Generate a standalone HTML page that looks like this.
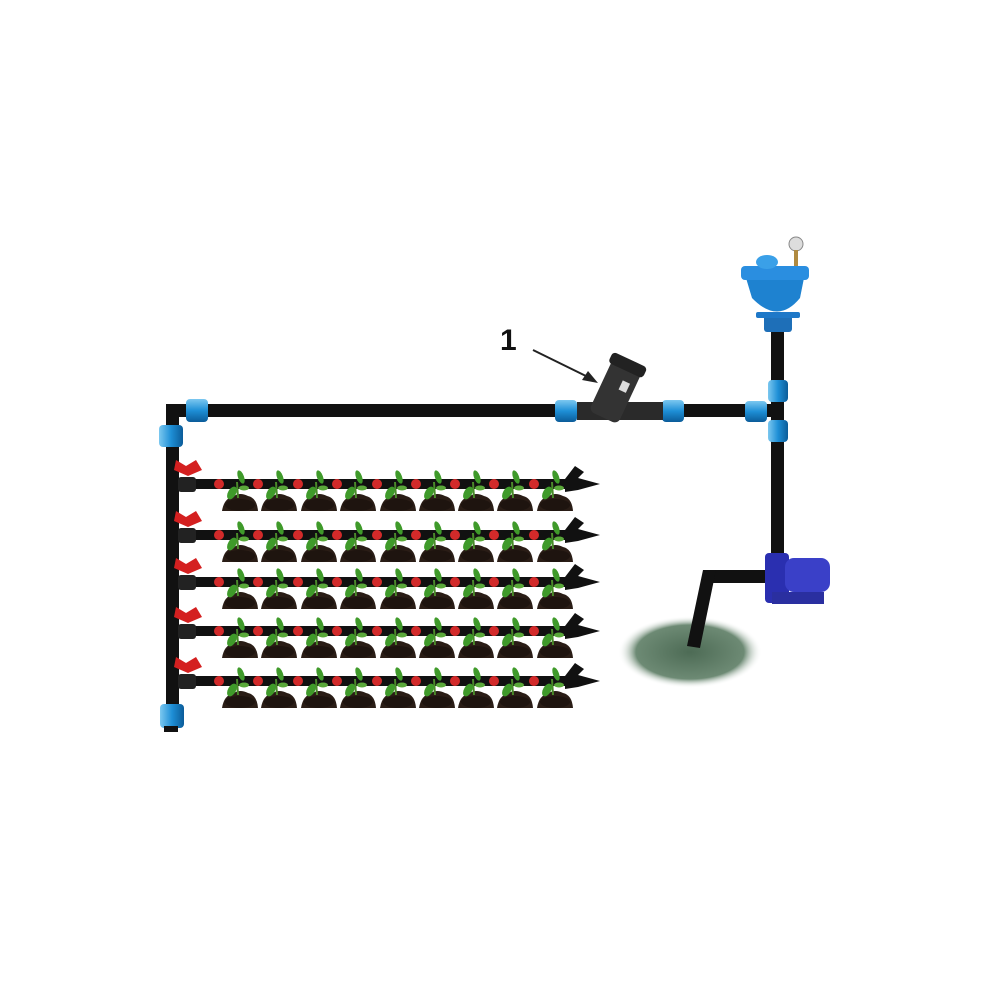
<!DOCTYPE html>
<html><head><meta charset="utf-8"><style>html,body{margin:0;padding:0;background:#fff}svg{display:block}</style></head>
<body>
<svg width="1000" height="1000" viewBox="0 0 1000 1000" xmlns="http://www.w3.org/2000/svg">
<defs>
<linearGradient id="blue" x1="0" y1="0" x2="0" y2="1"><stop offset="0" stop-color="#7cc8f0"/><stop offset="0.5" stop-color="#1e8fd6"/><stop offset="1" stop-color="#0b5c99"/></linearGradient>
<linearGradient id="blueV" x1="0" y1="0" x2="1" y2="0"><stop offset="0" stop-color="#7cc8f0"/><stop offset="0.5" stop-color="#1e8fd6"/><stop offset="1" stop-color="#0b5c99"/></linearGradient>
<radialGradient id="ground" cx="0.5" cy="0.5" r="0.5"><stop offset="0" stop-color="#4d6b55"/><stop offset="0.75" stop-color="#6d8a74"/><stop offset="1" stop-color="#ffffff" stop-opacity="0"/></radialGradient>
<g id="plant">
  <path d="M-2 27 Q0 14 10 12 Q16 8 24 12 Q33 14 34 27 Z" fill="#2a1d16"/>
  <ellipse cx="16" cy="21" rx="15" ry="6" fill="#1e140f"/>
  <path d="M14 14 L13 -2" stroke="#4a8a2a" stroke-width="2"/>
  <ellipse cx="8" cy="9" rx="4" ry="7" fill="#3f9a2a" transform="rotate(30 8 9)"/>
  <ellipse cx="17" cy="-7" rx="3" ry="7" fill="#3f9a2a" transform="rotate(-20 17 -7)"/>
  <ellipse cx="20" cy="4" rx="5" ry="2.5" fill="#5aa83a"/>
  <circle cx="-5" cy="0" r="5" fill="#d22a2a"/>
</g>
<g id="row">
  <rect x="180" y="-5" width="395" height="10" fill="#111"/>
  <path d="M565 -5 L575 -18 L584 -12 L578 -6 L600 0 L578 6 L565 8 Z" fill="#111"/>
  <rect x="178" y="-7" width="18" height="15" rx="3" fill="#222"/>
  <path d="M176 -24 L186 -18 L196 -24 L202 -14 L188 -8 L174 -14 Z" fill="#d42020"/>
  <use href="#plant" x="224" y="0"/><use href="#plant" x="263" y="0"/><use href="#plant" x="303" y="0"/>
  <use href="#plant" x="342" y="0"/><use href="#plant" x="382" y="0"/><use href="#plant" x="421" y="0"/>
  <use href="#plant" x="460" y="0"/><use href="#plant" x="499" y="0"/><use href="#plant" x="539" y="0"/>
</g>
</defs>
<rect width="1000" height="1000" fill="#fff"/>
<ellipse cx="690" cy="652" rx="72" ry="36" fill="url(#ground)"/>
<rect x="166" y="404" width="612" height="13" fill="#111"/>
<rect x="166" y="404" width="13" height="318" fill="#111"/>
<rect x="771" y="330" width="13" height="240" fill="#111"/>
<rect x="703" y="570" width="75" height="13" fill="#111"/>
<path d="M703 570 L716 570 L700 648 L687 646 Z" fill="#111"/>
<use href="#row" y="484"/><use href="#row" y="535"/><use href="#row" y="582"/><use href="#row" y="631"/><use href="#row" y="681"/>
<rect x="186" y="399" width="22" height="23" rx="4" fill="url(#blue)"/>
<rect x="159" y="425" width="24" height="22" rx="4" fill="url(#blueV)"/>
<rect x="160" y="704" width="24" height="24" rx="4" fill="url(#blueV)"/>
<rect x="164" y="726" width="14" height="6" fill="#111"/>
<rect x="555" y="400" width="22" height="22" rx="4" fill="url(#blue)"/>
<rect x="662" y="400" width="22" height="22" rx="4" fill="url(#blue)"/>
<rect x="745" y="401" width="22" height="21" rx="4" fill="url(#blue)"/>
<rect x="768" y="380" width="20" height="22" rx="4" fill="url(#blueV)"/>
<rect x="768" y="420" width="20" height="22" rx="4" fill="url(#blueV)"/>
<!-- filter -->
<rect x="577" y="402" width="86" height="18" fill="#2a2a2a"/>
<g transform="rotate(25 615 390)">
<rect x="600" y="358" width="32" height="62" rx="6" fill="#333"/>
<rect x="597" y="356" width="38" height="12" rx="4" fill="#222"/>
<rect x="618" y="378" width="8" height="10" fill="#ddd"/>
</g>
<text x="500" y="350" font-family="Liberation Sans, sans-serif" font-weight="bold" font-size="30" fill="#111">1</text>
<line x1="533" y1="350" x2="590" y2="378" stroke="#222" stroke-width="2"/>
<path d="M598 383 L582 380 L588 371 Z" fill="#222"/>
<!-- air valve -->
<rect x="764" y="314" width="28" height="18" rx="3" fill="#1e6fb8"/>
<rect x="756" y="312" width="44" height="6" rx="2" fill="#1e78c8"/>
<path d="M746 278 L804 278 L800 298 Q778 325 752 298 Z" fill="#1e82d0"/>
<rect x="741" y="266" width="68" height="14" rx="4" fill="#2a8ee0"/>
<ellipse cx="767" cy="262" rx="11" ry="7" fill="#3aa0e8"/>
<circle cx="796" cy="244" r="7" fill="#ddd" stroke="#888"/>
<rect x="794" y="250" width="4" height="16" fill="#b08a40"/>
<!-- pump -->
<rect x="765" y="553" width="24" height="50" rx="4" fill="#2a2fb0"/>
<rect x="785" y="558" width="45" height="34" rx="9" fill="#3a40c8"/>
<rect x="772" y="592" width="52" height="12" fill="#2a2fa0"/>
</svg>
</body></html>
